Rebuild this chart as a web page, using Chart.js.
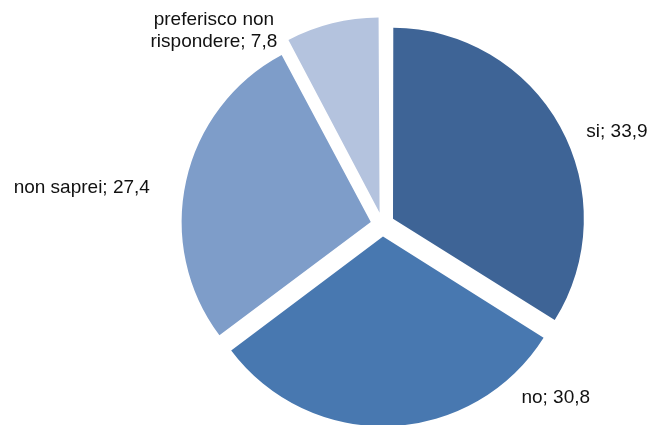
<!DOCTYPE html>
<html>
<head>
<meta charset="utf-8">
<script src="https://cdn.jsdelivr.net/npm/chart.js@4"></script>
<style>
  html, body { margin: 0; padding: 0; background: #fff; }
  #wrap { width: 650px; height: 425px; }
</style>
</head>
<body>
<div id="wrap"><canvas id="torta"></canvas></div>
<script>
const categorie = ['si', 'no', 'non saprei', 'preferisco non rispondere'];
const valori = [33.9, 30.8, 27.4, 7.8];
const etichette = [['si; 33,9'], ['no; 30,8'], ['non saprei; 27,4'], ['preferisco non', 'rispondere; 7,8']];
const colori = ['#3E6496', '#4878B0', '#7E9DC9', '#B4C3DE'];

// where each label sits: angle from 12 o'clock (deg, clockwise) and distance from the pie centre
const posEtichette = [
  { ang: 68.5, dist: 252 },
  { ang: 135, dist: 245 },
  { ang: 277, dist: 303 },
  { ang: 319, dist: 257 }
];

const etichettePlugin = {
  id: 'etichette',
  afterDatasetsDraw(chart) {
    const ctx = chart.ctx;
    const area = chart.chartArea;
    const cx = area.left + area.width / 2;
    const cy = area.top + area.height / 2;
    ctx.save();
    ctx.font = '19px "Liberation Sans", Arial, sans-serif';
    ctx.fillStyle = '#111';
    ctx.textAlign = 'center';
    ctx.textBaseline = 'middle';
    etichette.forEach((righe, i) => {
      const p = posEtichette[i];
      const a = p.ang * Math.PI / 180;
      const x = cx + Math.sin(a) * p.dist;
      const y = cy - Math.cos(a) * p.dist;
      const lh = 22;
      righe.forEach((r, j) => {
        ctx.fillText(r, x, y + (j - (righe.length - 1) / 2) * lh);
      });
    });
    ctx.restore();
  }
};

new Chart(document.getElementById('torta').getContext('2d'), {
  type: 'pie',
  data: {
    labels: categorie,
    datasets: [{
      data: valori,
      backgroundColor: colori,
      borderWidth: 0,
      offset: 48 // Chart.js v4 draws offset / 4 => ~12px gap
    }]
  },
  options: {
    responsive: true,
    maintainAspectRatio: false,
    animation: false,
    radius: 189,
    layout: { padding: { left: 115, right: 0, top: 24, bottom: 0 } },
    plugins: {
      legend: { display: false },
      tooltip: { enabled: false }
    }
  },
  plugins: [etichettePlugin]
});
</script>
</body>
</html>
